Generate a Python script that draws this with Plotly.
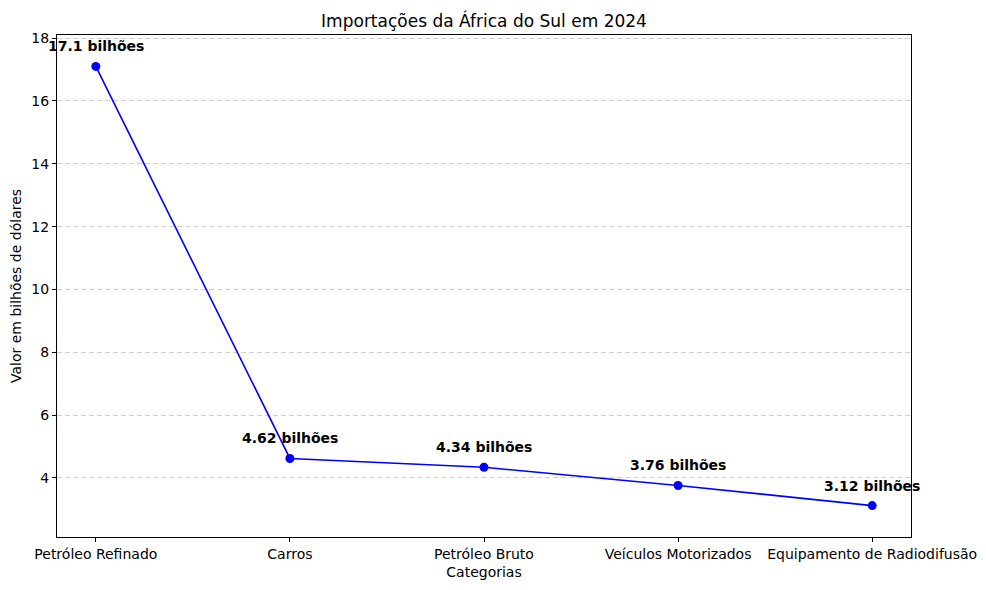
import plotly.graph_objects as go

categories = ["Petróleo Refinado", "Carros", "Petróleo Bruto", "Veículos Motorizados", "Equipamento de Radiodifusão"]
values = [17.1, 4.62, 4.34, 3.76, 3.12]
labels = ["17.1 bilhões", "4.62 bilhões", "4.34 bilhões", "3.76 bilhões", "3.12 bilhões"]
yticks = [4, 6, 8, 10, 12, 14, 16, 18]

FONT = "DejaVu Sans"
xs = list(range(len(categories)))

fig = go.Figure()
fig.add_trace(go.Scatter(
    x=xs, y=values, mode="lines+markers",
    line=dict(color="blue", width=1.6),
    marker=dict(color="blue", size=9),
    showlegend=False, hoverinfo="skip",
))
for x, v, t in zip(xs, values, labels):
    fig.add_annotation(x=x, y=v, text="<b>%s</b>" % t, showarrow=False,
                       yshift=20, font=dict(family=FONT, size=14, color="black"))

fig.update_layout(
    width=978, height=582,
    margin=dict(l=49, r=75, t=27, b=53, autoexpand=False),
    paper_bgcolor="white", plot_bgcolor="white",
    font=dict(family=FONT, size=14, color="black"),
    title=dict(text="Importações da África do Sul em 2024", x=0.5, xref="paper",
               xanchor="center", y=1, yref="container", yanchor="top", pad=dict(t=7),
               font=dict(family=FONT, size=17, color="black")),
)
fig.update_xaxes(
    range=[-0.2, 4.2], tickmode="array", tickvals=xs, ticktext=categories,
    showgrid=False, zeroline=False, showline=True, linecolor="black", linewidth=1,
    mirror=True, ticks="outside", ticklen=4, tickcolor="black", automargin=False,
    title=dict(text="Categorias", font=dict(family=FONT, size=14), standoff=6),
)
fig.update_yaxes(
    range=[2.12, 18.1], tickmode="array", tickvals=yticks,
    showgrid=True, gridcolor="rgba(176,176,176,0.6)", griddash="5px,3px", gridwidth=1,
    zeroline=False, showline=True, linecolor="black", linewidth=1,
    mirror=True, ticks="outside", ticklen=4, tickcolor="black", automargin=False,
    title=dict(text="Valor em bilhões de dólares", font=dict(family=FONT, size=14), standoff=8),
)
fig.write_html("out.html")
